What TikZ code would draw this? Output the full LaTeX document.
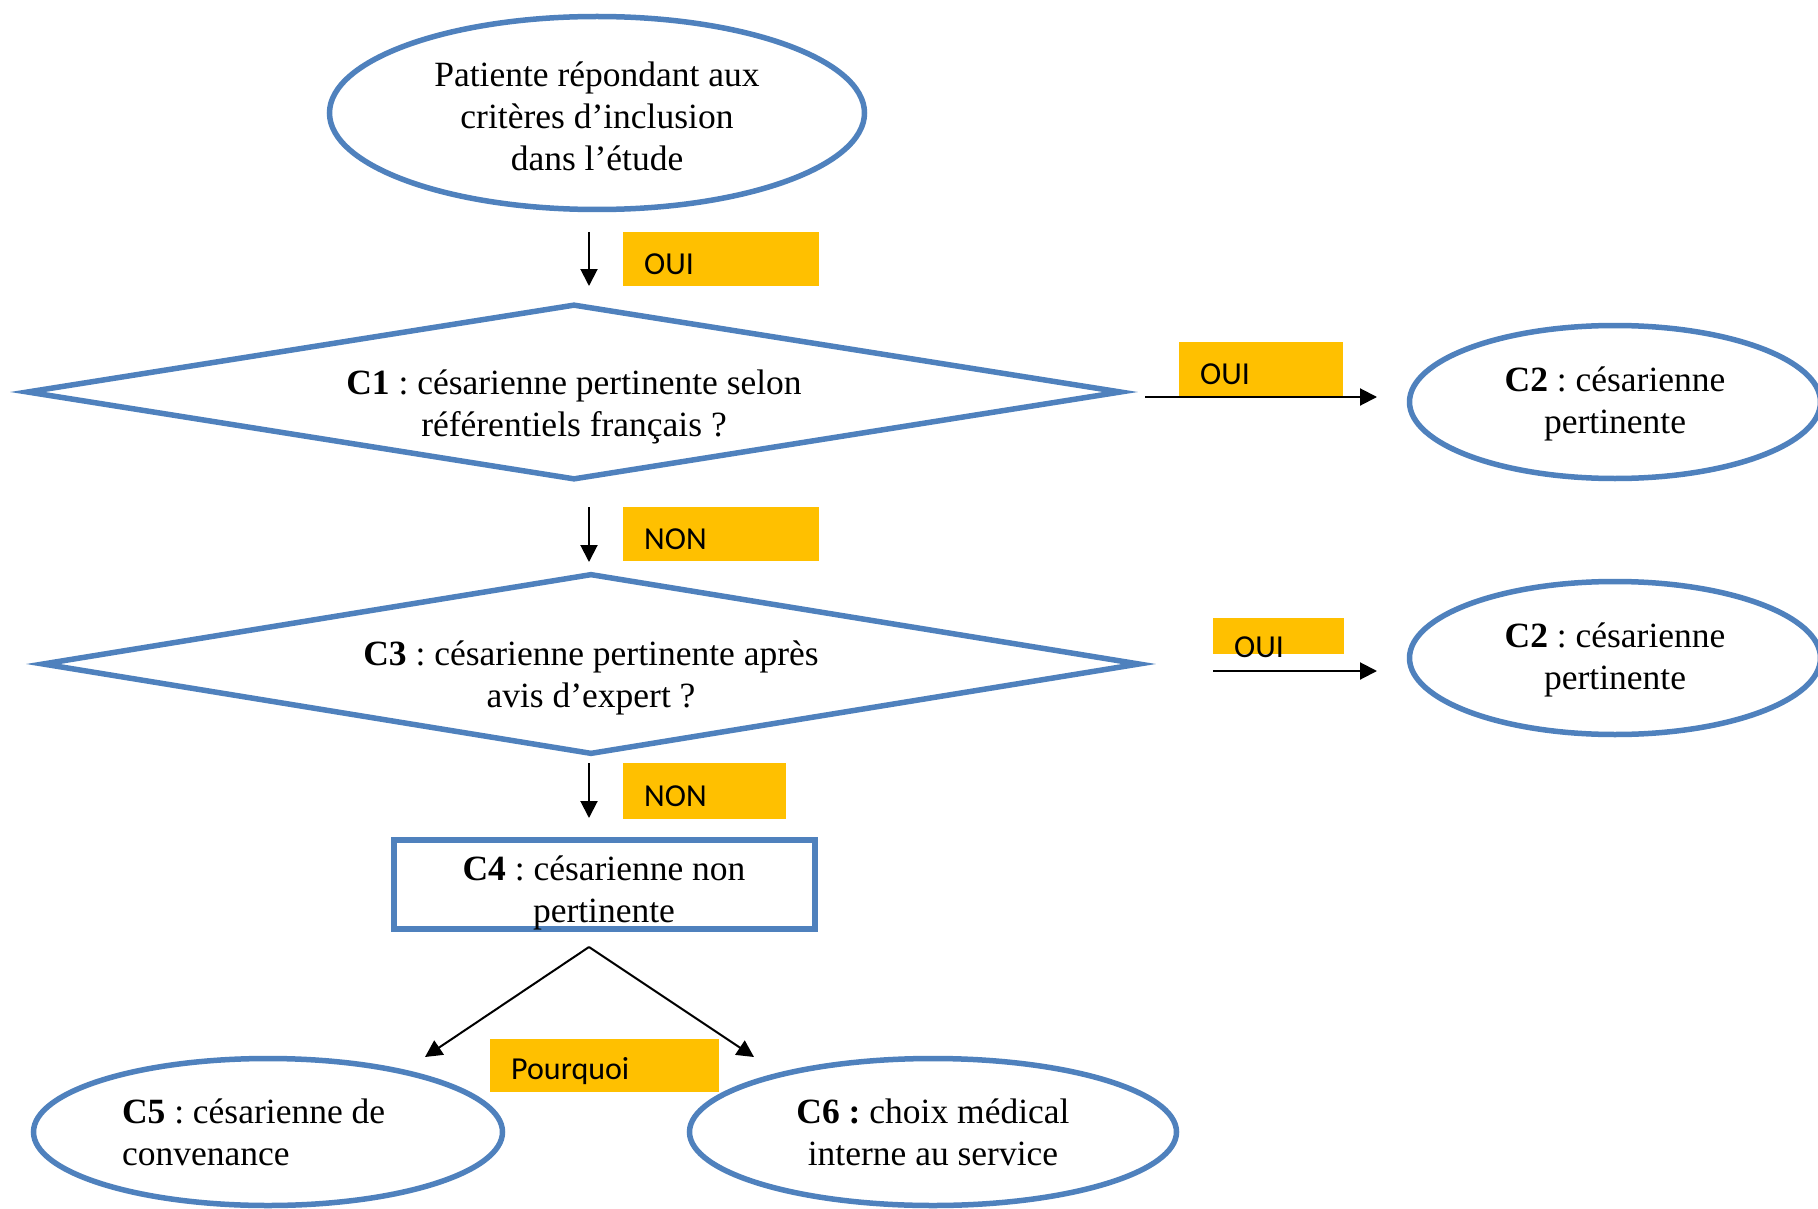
\documentclass[tikz,border=0pt]{standalone}
\usepackage{fontspec}
\setmainfont{Liberation Serif}
\newfontfamily\labfont{Carlito}
\usetikzlibrary{shapes.geometric,arrows.meta}
\definecolor{bblue}{HTML}{4F81BD}
\definecolor{oyel}{HTML}{FFC000}
\newcommand{\lowr}[2]{\raisebox{-#1pt}[\height][\depth]{#2}}
\newcommand{\topst}[1]{\rule{0pt}{#1pt}}
\frenchspacing
\begin{document}
\frenchspacing
\begin{tikzpicture}[x=1pt,y=-1pt,
  shapeb/.style={draw=bblue, line width=5.5pt, font=\fontsize{35.5}{42}\selectfont\frenchspacing, align=center, inner sep=0pt},
  ell/.style={shapeb, ellipse},
  dia/.style={shapeb, diamond, aspect=6.5, inner ysep=-20pt},
  rbox/.style={shapeb, rectangle, line width=6pt, inner ysep=-5pt},
  lab/.style={fill=oyel, font=\labfont\fontsize{32}{36}\selectfont, inner xsep=21pt, inner ysep=0pt, align=left, anchor=north west},
  arr/.style={-{Triangle[length=17pt,width=17pt]}, line width=2pt, black}]
\useasboundingbox[fill=white] (0,0) rectangle (1818,1209);

% shapes
\node[ell, minimum width=535pt, minimum height=193pt] (start) at (597,113)
  {\topst{32}Patiente répondant aux\\critères d’inclusion\\dans l’étude};
\node[dia, minimum width=1095pt, minimum height=176pt] (c1) at (574,392)
  {\topst{55}\textbf{C1} : césarienne pertinente selon\\référentiels français ?};
\node[dia, minimum width=1098pt, minimum height=181pt] (c3) at (591,664)
  {\topst{52}\textbf{C3} : césarienne pertinente après\\avis d’expert ?};
\node[ell, minimum width=411pt, minimum height=153pt] (c2a) at (1615,402)
  {\topst{28}\textbf{C2} : césarienne\\pertinente};
\node[ell, minimum width=411pt, minimum height=153pt] (c2b) at (1615,658)
  {\topst{28}\textbf{C2} : césarienne\\pertinente};
\node[rbox, minimum width=421pt, minimum height=89pt] (c4) at (604,884)
  {\topst{43}\textbf{C4} : césarienne non\\pertinente};
\node[ell, minimum width=469pt, minimum height=147pt, text width=292pt, align=flush left] (c5) at (268,1132)
  {\textbf{C5} : césarienne de\\convenance};
\node[ell, minimum width=487pt, minimum height=147pt] (c6) at (933,1132)
  {\textbf{C6 :} choix médical\\interne au service};

% connector coordinates
\coordinate (a1s) at (589,232); \coordinate (a1e) at (589,286);
\coordinate (a2s) at (589,507); \coordinate (a2e) at (589,562);
\coordinate (a3s) at (589,763); \coordinate (a3e) at (589,818);
\coordinate (h1s) at (1145,397); \coordinate (h1e) at (1377,397);
\coordinate (h2s) at (1213,671); \coordinate (h2e) at (1377,671);
\coordinate (apex) at (589,947);
\coordinate (t5) at (425,1057); \coordinate (t6) at (754,1057);

% labels
\node[lab, text width=154pt, minimum height=54pt] (l1) at (623,232) {\lowr{5}{OUI}};
\node[lab, text width=122pt, minimum height=55pt] (l2) at (1179,342) {\lowr{5}{OUI}};
\node[lab, text width=154pt, minimum height=54pt] (l3) at (623,507) {\lowr{5}{NON}};
\node[lab, text width=89pt, minimum height=36pt] (l4) at (1213,618) {\lowr{11}{OUI}};
\node[lab, text width=121pt, minimum height=56pt] (l5) at (623,763) {\lowr{5}{NON}};
\node[lab, text width=187pt, minimum height=53pt] (l6) at (490,1039) {\lowr{5}{Pourquoi}};

% connectors
\draw[arr] (a1s) -- (a1e);
\draw[arr] (a2s) -- (a2e);
\draw[arr] (a3s) -- (a3e);
\draw[arr] (h1s) -- (h1e);
\draw[arr] (h2s) -- (h2e);
\draw[arr] (apex) -- (t5);
\draw[arr] (apex) -- (t6);
\end{tikzpicture}
\end{document}
